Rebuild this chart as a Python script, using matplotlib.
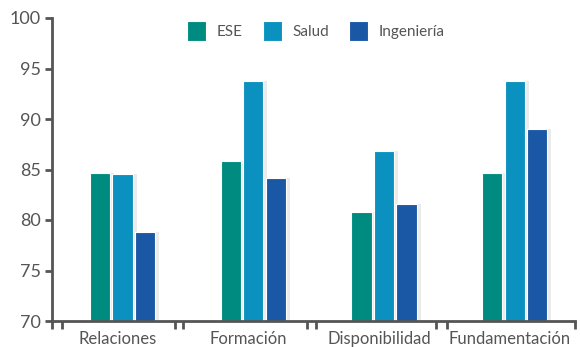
import matplotlib
matplotlib.use("Agg")
import matplotlib.pyplot as plt
import numpy as np

categories = ["Relaciones", "Formación", "Disponibilidad", "Fundamentación"]
series = ["ESE", "Salud", "Ingeniería"]
ese = [84.7, 85.8, 80.8, 84.7]
salud = [84.6, 93.8, 86.8, 93.8]
ingenieria = [78.8, 84.2, 81.6, 89.0]
colors = ["#008B80", "#0A91BF", "#1A58A6"]

plt.rcParams["font.family"] = ["Lato", "DejaVu Sans"]
grey = "#555555"

fig = plt.figure(figsize=(5.8, 3.47), dpi=100)
ax = fig.add_axes([52 / 580, 26 / 347, 523 / 580, 303 / 347])

x = np.arange(len(categories))
w = 0.155
step = 0.172
for i, (vals, c, name) in enumerate(zip([ese, salud, ingenieria], colors, series)):
    pos = x + 0.04 + (i - 1) * step
    # soft shadow
    ax.bar(pos + 0.03, np.array(vals) - 70, w, bottom=70, color="#000000",
           alpha=0.08, zorder=1)
    ax.bar(pos, np.array(vals) - 70, w, bottom=70, color=c, edgecolor="white",
           linewidth=0.8, label=name, zorder=2)

ax.set_ylim(70, 100)
ax.set_xlim(-0.5, 3.5)
ax.set_yticks(range(70, 101, 5))
ax.set_xticks(x)
ax.set_xticklabels(categories)
ax.set_xticks([-0.5, -0.42, 0.44, 0.5, 1.45, 1.52, 2.44, 2.52, 3.5], minor=True)

for s in ["top", "right"]:
    ax.spines[s].set_visible(False)
for s in ["left", "bottom"]:
    ax.spines[s].set_color(grey)
    ax.spines[s].set_linewidth(2)

ax.tick_params(axis="y", colors=grey, labelsize=13, width=2, length=5, pad=3)
ax.tick_params(axis="x", which="major", length=0, labelsize=12, colors=grey, pad=7)
ax.tick_params(axis="x", which="minor", length=6, width=2, color=grey)

leg = ax.legend(loc="upper center", bbox_to_anchor=(0.505, 1.035), ncol=3, frameon=False,
                fontsize=11, handlelength=1.25, handleheight=1.6, columnspacing=1.3,
                handletextpad=0.7)
for t in leg.get_texts():
    t.set_color(grey)

fig.savefig("out.png", dpi=100)
